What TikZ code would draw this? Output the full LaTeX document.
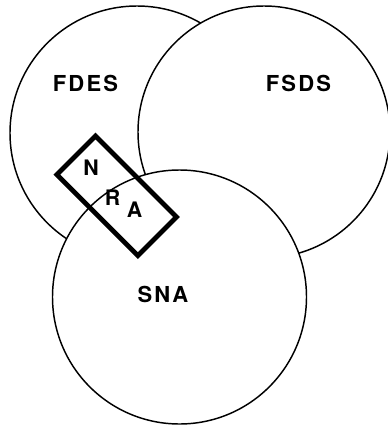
\documentclass[tikz,border=0pt]{standalone}
\usepackage{fontspec}
\setmainfont{TeX Gyre Heros}
\usepackage{tikz}
\usepackage{xcolor}

\tikzset{
  setcircle/.style={draw, circle, fill=white, line width=1.1pt, inner sep=0pt, minimum size=190.5pt},
  nrabox/.style={draw, rectangle, line width=3.6pt, inner sep=0pt, miter limit=10},
  biglbl/.style={inner sep=0pt, font=\fontsize{16.5}{19}\selectfont\bfseries\addfontfeature{LetterSpace=10}},
  smalllbl/.style={inner sep=0pt, font=\fontsize{16}{19}\selectfont\bfseries}
}

\begin{document}
\begin{tikzpicture}[x=0.75pt,y=0.75pt,yscale=-1,xscale=1]
    \useasboundingbox (0,0) rectangle (387,425);

    %Shape: Circle [FDES]
    \draw (137,133) node [setcircle] (fdes) {};
    %Shape: Circle [FSDS] -- covers FDES
    \draw (264,132) node [setcircle, minimum size=189pt] (fsds) {};
    %Shape: Circle [SNA] -- covers both
    \draw (179.5,297) node [setcircle] (sna) {};

    %Shape: Rectangle [NRA]
    \draw (116.7,195.8) node [nrabox, minimum width=86pt, minimum height=41pt, rotate=-45] (nra) {};

    % Text Node
    \draw (85.5,83.5) node [biglbl] (fdeslbl) {FDES};
    % Text Node
    \draw (298.5,83.5) node [biglbl] (fsdslbl) {FSDS};
    % Text Node
    \draw (163,294) node [biglbl] (snalbl) {SNA};
    % Text Node
    \draw (91,168) node [smalllbl] (nlbl) {N};
    % Text Node
    \draw (112.5,197.5) node [smalllbl] (rlbl) {R};
    % Text Node
    \draw (134.5,209.5) node [smalllbl] (albl) {A};

\end{tikzpicture}
\end{document}
